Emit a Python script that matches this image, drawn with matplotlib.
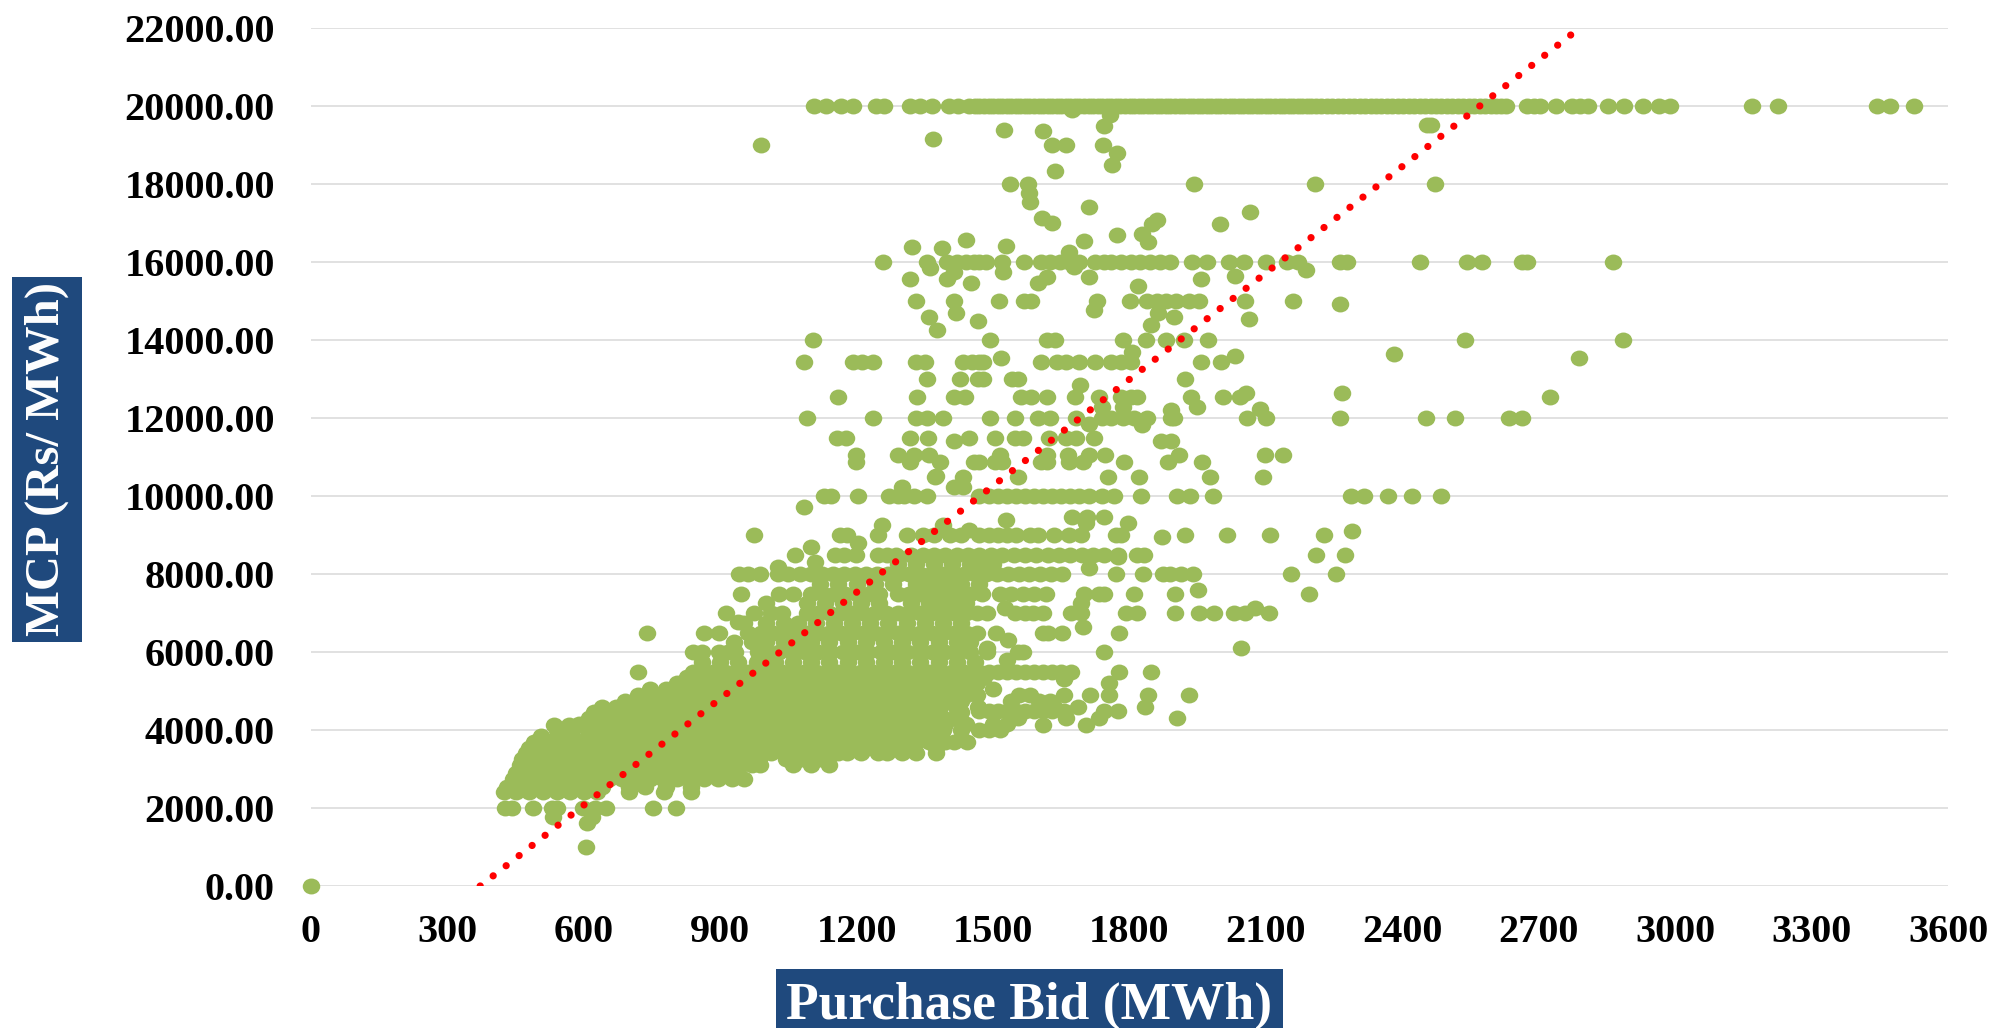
import matplotlib
matplotlib.use("Agg")
import matplotlib.pyplot as plt
from matplotlib.patches import Rectangle
from matplotlib.path import Path
from matplotlib.transforms import Affine2D

plt.rcParams['font.family'] = ['Liberation Serif', 'DejaVu Serif']

W, H = 1991, 1028
x_ticks = [0, 300, 600, 900, 1200, 1500, 1800, 2100, 2400, 2700, 3000, 3300, 3600]
y_ticks = [0, 2000, 4000, 6000, 8000, 10000, 12000, 14000, 16000, 18000, 20000, 22000]
trend_x = [372, 2790]
trend_y = [0, 22000]

# Points sitting on common price levels (MCP -> purchase bids)
r20000 = [1107,1132,1166,1193,1242,1261,1317,1340,1366,1404,1423,1448,1460,1470,1480,1490,1500,1510,1520,1530,1540,1550,1560,1570,1580,1590,1600,1610,1620,1630,1640,1650,1660,1670,1680,1690,1700,1710,1720,1730,1740,1750,1760,1770,1780,1790,1800,1810,1820,1830,1840,1850,1860,1870,1880,1890,1900,1910,1920,1930,1940,1950,1960,1970,1980,1990,2000,2010,2020,2030,2040,2050,2060,2070,2080,2090,2100,2110,2120,2130,2140,2150,2160,2170,2180,2190,2200,2210,2222,2234,2246,2258,2270,2282,2294,2306,2318,2330,2342,2354,2366,2378,2390,2402,2414,2426,2438,2450,2462,2474,2486,2498,2510,2522,2534,2546,2558,2570,2582,2594,2606,2618,2628,2675,2690,2703,2738,2774,2790,2809,2852,2887,2930,2965,2989,3169,3227,3444,3472,3526]
r16000 = [1257,1354,1399,1420,1440,1458,1470,1484,1520,1569,1605,1626,1647,1668,1690,1725,1745,1760,1782,1803,1824,1846,1867,1888,1938,1970,2018,2052,2100,2147,2171,2264,2278,2438,2543,2575,2663,2674,2864]
r15000 = [1330,1413,1513,1569,1583,1729,1800,1838,1860,1881,1902,1931,1952,2055,2160]
r14000 = [1103,1494,1619,1636,1785,1836,1881,1919,1973,2538,2886]
r13430 = [1085,1193,1212,1237,1330,1351,1433,1453,1470,1477,1605,1640,1661,1690,1725,1760,1782,1803,1957,2001]
r13000 = [1355,1428,1467,1477,1541,1555,1923]
r12540 = [1160,1333,1415,1438,1562,1583,1619,1680,1732,1782,1803,1817,1935,2006,2044,2724]
r12000 = [1091,1235,1330,1354,1389,1494,1548,1598,1626,1683,1739,1760,1785,1810,1838,1892,1898,2059,2100,2264,2452,2516,2635,2663]
r11500 = [1156,1176,1317,1356,1448,1505,1548,1566,1622,1661,1683,1721]
r11050 = [1198,1291,1325,1359,1515,1619,1664,1711,1746,1909,2098,2137]
r10870 = [1198,1317,1384,1457,1470,1505,1520,1605,1619,1666,1697,1789,1885,1959]
r10500 = [1372,1433,1555,1753,1820,1976,2093]
r10000 = [1129,1143,1204,1271,1291,1305,1325,1354,1470,1490,1510,1530,1550,1570,1590,1610,1630,1650,1670,1690,1710,1739,1767,1825,1904,1933,1983,2288,2316,2368,2422,2485]
r9000 = [974,1163,1178,1247,1310,1345,1370,1405,1430,1470,1490,1510,1530,1550,1582,1599,1633,1666,1694,1770,1782,1923,2015,2109,2227]
r8500 = [1065,1153,1173,1198,1247,1266,1286,1320,1345,1370,1395,1420,1445,1470,1495,1520,1545,1570,1595,1620,1645,1670,1695,1720,1745,1775,1817,1831,2210,2274]
r8250 = [1290,1330,1370,1410,1450,1480,1500]
r8000 = [942,962,987,1026,1050,1075,1099,1124,1148,1172,1196,1220,1244,1268,1292,1316,1340,1364,1388,1412,1436,1460,1484,1508,1532,1556,1580,1604,1628,1652,1770,1829,1874,1890,1913,1939,2156,2255]
r7750 = [1120,1160,1200,1240,1280,1330,1350,1380,1410,1430,1470]
r7500 = [945,1029,1060,1099,1125,1150,1175,1200,1225,1250,1290,1315,1340,1365,1400,1425,1450,1475,1515,1540,1565,1590,1616,1700,1733,1745,1809,1900,2195]
r7250 = [1000,1090,1130,1170,1210,1250,1320,1360,1380,1410,1440]
r7000 = [913,974,1011,1036,1090,1115,1140,1165,1190,1215,1240,1265,1290,1315,1340,1365,1390,1415,1440,1465,1487,1548,1571,1588,1610,1672,1694,1793,1817,1900,1952,1986,2030,2053,2106]
r6750 = [952,1000,1040,1070,1110,1150,1190,1230,1270,1310,1350,1390,1430]
r6500 = [739,864,898,962,990,1015,1040,1065,1090,1115,1140,1165,1190,1215,1240,1265,1290,1315,1340,1365,1390,1415,1440,1465,1507,1610,1621,1652,1778]
r6250 = [930,970,1000,1040,1070,1100,1140,1180,1220,1260,1300,1340,1380,1420,1450]
r6000 = [839,859,898,918,933,982,1001,1030,1058,1086,1114,1142,1170,1198,1226,1254,1282,1310,1338,1366,1394,1422,1450,1487,1554,1565,1744]
r5750 = [860,900,940,980,1020,1060,1100,1140,1180,1220,1260,1300,1340,1380,1420,1460]
r5500 = [719,839,860,885,910,935,960,985,1010,1035,1060,1085,1110,1135,1160,1185,1210,1235,1260,1285,1310,1335,1360,1385,1410,1435,1470,1490,1510,1530,1550,1570,1590,1610,1630,1650,1672,1778,1848]
r5350 = [826,860,894,928,962,996,1030,1064,1098,1132,1166,1200,1234,1268,1302,1336,1370,1404,1438,1480]
r5200 = [805,835,865,895,925,955,985,1015,1045,1075,1105,1135,1165,1195,1225,1255,1285,1315,1345,1375,1405,1435,1465]
r5050 = [745,780,815,850,885,920,955,990,1025,1060,1095,1130,1165,1200,1235,1270,1305,1340,1375,1410,1445,1500]
r4900 = [720,750,780,810,840,870,900,930,960,990,1020,1050,1080,1110,1140,1170,1200,1230,1260,1290,1320,1350,1380,1410,1440,1465,1557,1582,1655,1714,1756,1840,1930]
r4750 = [690,725,760,795,830,865,900,935,970,1005,1040,1075,1110,1145,1180,1215,1250,1285,1320,1355,1390,1430,1540,1600,1625]
r4600 = [640,670,700,730,760,790,820,850,880,910,940,970,1000,1030,1060,1090,1120,1150,1180,1210,1240,1270,1300,1330,1360,1384,1418,1467,1610,1633,1686,1834]
r4500 = [1470,1490,1510,1530,1550,1570,1590,1610,1630,1655,1745,1775]
r4450 = [622,655,688,721,754,787,820,853,886,919,952,985,1018,1051,1084,1117,1150,1183,1216,1249,1282,1315,1348,1381,1430]
r4300 = [612,640,670,700,730,760,790,820,850,880,910,940,970,1000,1030,1060,1090,1120,1150,1180,1210,1240,1270,1300,1330,1360,1390,1413,1554,1661,1733,1904]
r4150 = [590,625,660,695,730,765,800,835,870,905,940,975,1010,1045,1080,1115,1150,1185,1220,1255,1290,1325,1360,1395,1440,1500,1530]
r4130 = [535,568,1610,1705]
r4000 = [540,575,610,640,670,700,730,760,790,820,850,880,910,940,970,1000,1030,1060,1090,1120,1150,1180,1210,1240,1270,1300,1330,1360,1390,1430,1470,1492,1515]
r3850 = [505,540,575,610,645,680,715,750,785,820,855,890,925,960,995,1030,1065,1100,1135,1170,1205,1240,1275,1310,1345,1380]
r3700 = [490,520,550,580,610,640,670,700,730,760,790,820,850,880,910,940,970,1000,1030,1060,1090,1120,1148,1180,1210,1240,1270,1300,1330,1360,1395,1413,1443]
r3550 = [480,515,550,585,620,655,690,725,760,795,830,865,900,935,970,1005,1040,1075,1110,1145,1180,1225,1290,1320,1374]
r3400 = [472,500,530,560,590,620,650,680,710,740,770,800,830,860,890,920,950,980,1011,1040,1070,1100,1130,1158,1178,1210,1247,1266,1300,1330,1374]
r3250 = [465,500,535,570,605,640,675,710,745,780,815,850,885,920,955,985,1045,1080,1120]
r3100 = [460,490,520,550,580,610,640,670,700,730,760,790,820,850,880,910,940,970,987,1060,1099,1139]
r2900 = [450,485,520,555,590,625,660,695,730,765,800,835,870,905,940]
r2750 = [445,475,505,535,565,595,625,655,685,715,745,775,805,835,865,895,925,952]
r2550 = [430,465,500,535,570,605,640,700,735,780,835]
r2400 = [425,450,480,510,540,570,600,630,699,776,835]
r2000 = [427,442,488,530,540,599,625,648,753,803]

level_rows = [(20000,r20000),(16000,r16000),(15000,r15000),(14000,r14000),(13430,r13430),(13000,r13000),
              (12540,r12540),(12000,r12000),(11500,r11500),(11050,r11050),(10870,r10870),(10500,r10500),
              (10000,r10000),(9000,r9000),(8500,r8500),(8250,r8250),(8000,r8000),(7750,r7750),(7500,r7500),
              (7250,r7250),(7000,r7000),(6750,r6750),(6500,r6500),(6250,r6250),(6000,r6000),(5750,r5750),
              (5500,r5500),(5350,r5350),(5200,r5200),(5050,r5050),(4900,r4900),(4750,r4750),(4600,r4600),
              (4500,r4500),(4450,r4450),(4300,r4300),(4150,r4150),(4130,r4130),(4000,r4000),(3850,r3850),
              (3700,r3700),(3550,r3550),(3400,r3400),(3250,r3250),(3100,r3100),(2900,r2900),(2750,r2750),
              (2550,r2550),(2400,r2400),(2000,r2000)]

# Scattered points away from the common levels
other_x = [0,605,607,532,619,990,1368,1525,1610,1743,2462,2455,1758,1673,1630,1661,1741,1772,1762,1636,1538,1576,1942,2207,2472,1580,1582,1712,2065,1607,1630,1999,1860,1850,1772,1828,1841,1700,1528,1321,1388,1441,1361,1317,1399,1413,1451,1418,1359,1377,1467,1521,1678,1667,2188,1712,1619,1957,2031,1598,1819,2264,1722,1862,1898,2062,1847,2381,2788,1517,1806,2031,1692,2057,2268,1949,1739,1785,1892,2086,1711,1828,1415,1870,1891,1085,1300,1374,1433,1413,1099,1256,1389,1448,1202,1026,1109,940,1529,1674,1707,1743,1796,1705,1872,2289,1775,1711,1950,1526,1694,1532,1487,2046,1697,2075,1530,1655,1756]
other_y = [0,1000,1610,1780,1780,18990,19160,19380,19350,19500,19520,19520,19760,19900,19000,19000,19000,18800,18480,18330,18010,18010,18010,18010,18010,17770,17550,17410,17280,17130,17010,16980,17070,16970,16680,16730,16520,16530,16410,16390,16360,16560,15850,15570,15570,15740,15470,14680,14590,14250,14500,15740,15870,16260,15790,15610,15610,15570,15630,15450,15390,14915,14760,14700,14590,14530,14390,13650,13540,13550,13690,13600,12850,12640,12650,12270,12280,12280,12200,12220,11850,11810,11400,11400,11400,9730,10220,10520,10240,10220,8700,9260,9260,9130,8790,8190,8320,6780,9390,9470,9470,9470,9300,9300,8940,9100,8430,8150,7590,7120,7250,6300,6100,6110,6650,7120,5800,5300,5200]

xs, ys = list(other_x), list(other_y)
for level, row in level_rows:
    xs += row
    ys += [level] * len(row)

fig = plt.figure(figsize=(W / 100, H / 100), dpi=100, facecolor='white')
ax = fig.add_axes([311 / W, 1 - 886 / H, (1948 - 311) / W, (886 - 28) / H])

ellipse = Path.unit_circle().transformed(Affine2D().scale(1.1, 1.0))
ax.plot(xs, ys, linestyle='none', marker=ellipse, markersize=12.6, markerfacecolor='#9BBB59',
        markeredgewidth=0, clip_on=False, zorder=3)
ax.plot(trend_x, trend_y, color='#FF0000', linewidth=5.2, linestyle=(0, (0.01, 2.27)),
        dash_capstyle='round', zorder=4)

ax.set_xlim(0, 3600)
ax.set_ylim(0, 22000)
ax.set_xticks(x_ticks)
ax.set_xticklabels([str(v) for v in x_ticks])
ax.set_yticks(y_ticks)
ax.set_yticklabels([f'{v:.2f}' for v in y_ticks])
ax.tick_params(length=0, labelsize=29, pad=0)
ax.tick_params(axis='x', pad=20)
ax.tick_params(axis='y', pad=26)
for lab in ax.get_xticklabels() + ax.get_yticklabels():
    lab.set_fontweight('bold')
ax.grid(axis='y', color='#D9D9D9', linewidth=1.1, zorder=1)
ax.set_axisbelow(True)
for s in ax.spines.values():
    s.set_visible(False)

def box(x0, y0, x1, y1):
    fig.add_artist(Rectangle((x0 / W, 1 - y1 / H), (x1 - x0) / W, (y1 - y0) / H,
                             transform=fig.transFigure, facecolor='#1F497D', edgecolor='none'))

box(12, 277, 82, 642)
fig.text(47 / W, 1 - 459 / H, 'MCP (Rs/ MWh)', rotation=90, color='white', fontsize=35,
         fontweight='bold', ha='center', va='center')
box(776, 969, 1283, 1028)
fig.text(1029 / W, 1 - 1006 / H, 'Purchase Bid (MWh)', color='white', fontsize=38.5,
         fontweight='bold', ha='center', va='center')

fig.savefig('out.png', dpi=100, facecolor='white')
